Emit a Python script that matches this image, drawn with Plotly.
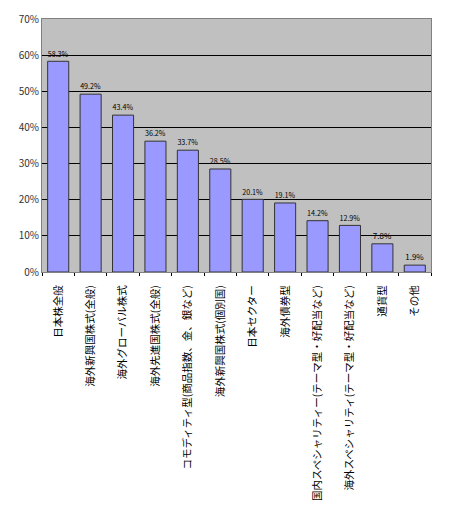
import plotly.graph_objects as go

categories = [
    "日本株全般",
    "海外新興国株式(全般)",
    "海外グローバル株式",
    "海外先進国株式(全般)",
    "コモディティ型(商品指数、金、銀など)",
    "海外新興国株式(個別国)",
    "日本セクター",
    "海外債券型",
    "国内スペシャリティー(テーマ型・好配当など)",
    "海外スペシャリティ(テーマ型・好配当など)",
    "通貨型",
    "その他",
]
values = [58.3, 49.2, 43.4, 36.2, 33.7, 28.5, 20.1, 19.1, 14.2, 12.9, 7.8, 1.9]
y_ticks = [0, 10, 20, 30, 40, 50, 60, 70]
y_tick_labels = [f"{v}%" for v in y_ticks]

font_family = "Noto Sans CJK JP"

fig = go.Figure(
    go.Bar(
        x=categories,
        y=values,
        text=[f"{v:.1f}%" for v in values],
        textposition="outside",
        textfont=dict(size=8, color="#000000", family=font_family),
        cliponaxis=False,
        marker=dict(color="#9999FF", line=dict(color="#333333", width=1)),
    )
)

fig.update_layout(
    width=450,
    height=511,
    margin=dict(l=42, r=19, t=19, b=239),
    paper_bgcolor="#FFFFFF",
    plot_bgcolor="#C0C0C0",
    bargap=0.35,
    showlegend=False,
    font=dict(family=font_family, color="#000000"),
)
fig.update_xaxes(
    tickangle=-90,
    tickfont=dict(size=10.5, color="#000000"),
    tickson="boundaries",
    ticks="outside",
    ticklen=3,
    tickcolor="#000000",
    ticklabelstandoff=8,
    automargin=False,
    showline=True,
    linecolor="#808080",
    linewidth=1,
    mirror=True,
    showgrid=False,
)
fig.update_yaxes(
    range=[0, 70],
    tickvals=y_ticks,
    ticktext=y_tick_labels,
    tickfont=dict(size=10, color="#333333"),
    showgrid=True,
    gridcolor="#000000",
    gridwidth=1,
    showline=True,
    linecolor="#808080",
    linewidth=1,
    mirror=True,
    ticks="",
    zeroline=False,
    automargin=False,
)

fig.write_html("out.html")
